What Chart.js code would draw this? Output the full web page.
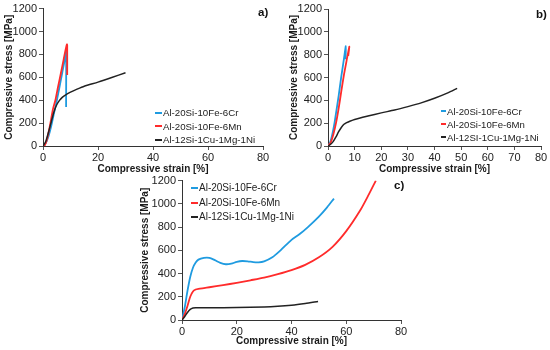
<!DOCTYPE html>
<html>
<head>
<meta charset="utf-8">
<script src="https://cdn.jsdelivr.net/npm/chart.js@4.4.1/dist/chart.umd.min.js"></script>
<style>
  body{margin:0;background:#fff;width:550px;height:350px;position:relative;overflow:hidden;font-family:"Liberation Sans",Arial,sans-serif}
  canvas{position:absolute}
  .tag{position:absolute;font-weight:bold;font-size:11.5px;color:#111}
  .legend{position:absolute;color:#222;white-space:nowrap}
  .legend div{display:flex;align-items:center}
  .legend span{display:inline-block;height:2px;margin-right:1px}
</style>
</head>
<body>
<canvas id="chartA" width="275" height="178" style="left:0;top:0"></canvas>
<canvas id="chartB" width="275" height="178" style="left:275px;top:0"></canvas>
<canvas id="chartC" width="290" height="178" style="left:130px;top:172px"></canvas>
<div class="tag" style="left:258px;top:6px">a)</div>
<div class="tag" style="left:536px;top:8px">b)</div>
<div class="tag" style="left:394px;top:179px">c)</div>
<div class="legend" id="legA" style="left:155px;top:106px;font-size:9.7px;line-height:13.5px"></div>
<div class="legend" id="legB" style="left:441px;top:104.5px;font-size:9.6px;line-height:13px"></div>
<div class="legend" id="legC" style="left:191px;top:181px;font-size:10px;line-height:14.5px"></div>
<script>
// ----- series names -----
const names = ["Al-20Si-10Fe-6Cr", "Al-20Si-10Fe-6Mn", "Al-12Si-1Cu-1Mg-1Ni"];
const namesB = ["Al-20Si-10Fe-6Cr", "Al-20Si-10Fe-6Mn", "Al-12SI-1Cu-1Mg-1Ni"];
const colors = ["#1f9be0", "#ff2b2b", "#222222"];

// axis ticks
const stressTicks = [0, 200, 400, 600, 800, 1000, 1200];
const strainStepA = 20, strainStepB = 10, strainStepC = 20;

// ----- a) [strain %, stress MPa] -----
const aCr = [[0,0],[1,25],[2,85],[3,175],[4,285],[5,395],[6,515],[7,640],[8,765],[8.4,830],[8.4,340]];
const aMn = [[0,0],[0.6,5],[1.5,60],[2.7,200],[3.6,320],[4.5,400],[5.5,520],[6.5,635],[7.5,755],[8.3,850],[8.7,888],[8.8,880],[8.8,620]];
const aNi = [[0,0],[1,40],[2,120],[3,210],[4,300],[5,360],[6,398],[7,425],[8,443],[10,470],[12,492],[15,522],[20,558],[25,598],[30,640]];

// ----- b) -----
const bCr = [[0,0],[0.5,15],[1,45],[1.5,90],[2,145],[2.5,210],[3,285],[4,440],[5,610],[6,765],[6.7,875],[6.6,760]];
const bMn = [[0,0],[1,30],[2,100],[3,200],[4,330],[5,480],[6,625],[7,750],[8,870],[7.6,790]];
const bNi = [[0,0],[1,15],[2,40],[3,80],[4,125],[5,162],[6,190],[7,205],[8,215],[10,232],[15,262],[20,290],[25,315],[30,345],[35,378],[40,418],[45,465],[48.5,505]];

// ----- c) -----
const cCr = [[0,0],[1,110],[2,250],[3,370],[4,450],[5,495],[6,520],[8,535],[10,535],[12,515],[14,492],[16,480],[18,485],[20,500],[22,508],[24,505],[26,498],[28,496],[30,505],[33,540],[36,600],[40,690],[43,740],[46,800],[50,890],[53,970],[55.5,1045]];
const cMn = [[0,0],[1,50],[2,120],[3,200],[4,245],[5,262],[6,268],[8,275],[10,282],[15,300],[20,320],[25,342],[30,365],[35,395],[40,430],[45,475],[50,540],[55,630],[60,765],[65,940],[68,1070],[70.8,1200]];
const cNi = [[0,0],[1,30],[2,65],[3,92],[4,104],[5,106],[10,105],[20,107],[30,112],[35,118],[40,128],[45,143],[49.7,160]];

function toXY(arr){ return arr.map(p=>({x:p[0], y:p[1]})); }

function buildLegend(id, labels, lineW){
  const box = document.getElementById(id);
  labels.forEach((t,i)=>{
    const row = document.createElement("div");
    const mark = document.createElement("span");
    mark.style.width = lineW + "px";
    mark.style.background = colors[i];
    row.appendChild(mark);
    row.appendChild(document.createTextNode(t));
    box.appendChild(row);
  });
}

const tickFont = {family:"'Liberation Sans', Arial, sans-serif", size:11};
const titleFont = {family:"'Liberation Sans', Arial, sans-serif", size:10, weight:"bold"};

function makePanel(canvasId, series, cfg){
  return new Chart(document.getElementById(canvasId), {
    type: "scatter",
    data: {
      datasets: series.map((s,i)=>({
        label: cfg.labels[i],
        data: toXY(s),
        borderColor: colors[i],
        backgroundColor: colors[i],
        borderWidth: i==2 ? 1.5 : 1.8,
        showLine: true,
        pointRadius: 0,
        tension: 0.25,
        order: 2 - i
      }))
    },
    options: {
      responsive: false,
      animation: false,
      layout: {padding: {top: cfg.top, right: cfg.right, left: 0, bottom: 0}},
      plugins: {legend: {display: false}, tooltip: {enabled: false}},
      scales: {
        x: {
          type: "linear", min: 0, max: 80,
          ticks: {stepSize: cfg.xStep, font: tickFont, color: "#222", padding: 1, maxRotation: 0, callback: v => String(v)},
          grid: {drawOnChartArea: false, tickLength: 4, color: "#555"},
          border: {color: "#333", width: 1},
          title: {display: true, text: "Compressive strain [%]", font: titleFont, color: "#1a1a1a", padding: {top: 0, bottom: 3}},
          afterFit: s => { s.height = cfg.xh; }
        },
        y: {
          type: "linear", min: 0, max: 1200,
          afterBuildTicks: s => { s.ticks = stressTicks.map(v=>({value:v})); },
          ticks: {font: tickFont, color: "#222", padding: 2, callback: v => String(v)},
          grid: {drawOnChartArea: false, tickLength: 4, color: "#555"},
          border: {color: "#333", width: 1},
          title: {display: true, text: "Compressive stress [MPa]", font: titleFont, color: "#1a1a1a", padding: {top: cfg.yPad, bottom: 0}},
          afterFit: s => { s.width = cfg.yw; }
        }
      }
    }
  });
}

makePanel("chartA", [aCr, aMn, aNi], {labels: names, xStep: strainStepA, top: 7, right: 12, xh: 32, yw: 43, yPad: 3});
makePanel("chartB", [bCr, bMn, bNi], {labels: namesB, xStep: strainStepB, top: 9, right: 9, xh: 32, yw: 53, yPad: 13});
makePanel("chartC", [cCr, cMn, cNi], {labels: names, xStep: strainStepC, top: 8, right: 19, xh: 30, yw: 52, yPad: 9});

buildLegend("legA", names, 7);
buildLegend("legB", namesB, 5);
buildLegend("legC", names, 7);
</script>
</body>
</html>
